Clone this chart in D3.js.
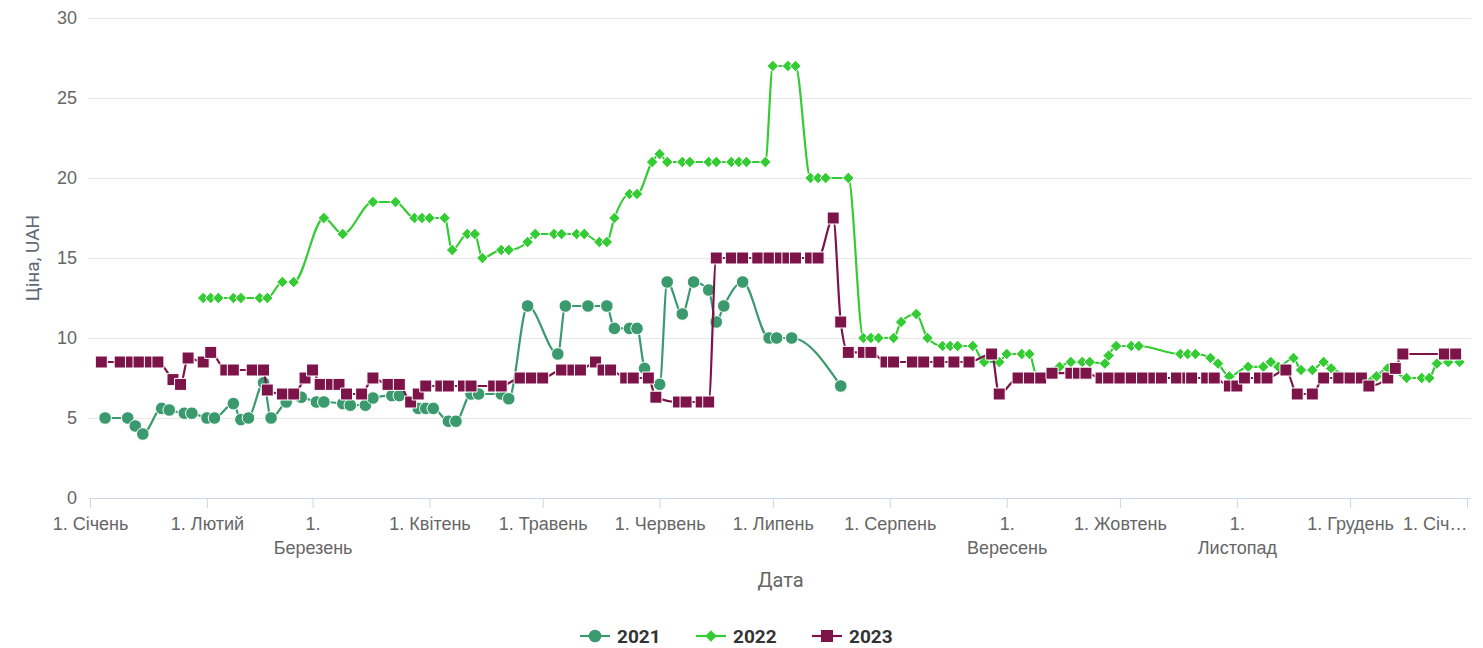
<!DOCTYPE html>
<html>
<head>
<meta charset="utf-8">
<script src="https://cdn.jsdelivr.net/npm/d3@7"></script>
<style>
  body { margin: 0; background: #fff; font-family: Roboto, "Noto Sans", sans-serif; }
</style>
</head>
<body>
<div id="chart"></div>
<script>
// price chart, three years overlaid on one calendar year

var monthNames = ["Січень", "Лютий", "Березень", "Квітень", "Травень", "Червень",
  "Липень", "Серпень", "Вересень", "Жовтень", "Листопад", "Грудень"];
var yTicks = [0, 5, 10, 15, 20, 25, 30];
var seriesNames = ["2021", "2022", "2023"];

var dates2021 = ["01-05","01-11","01-13","01-15","01-20","01-22","01-26","01-28","02-01","02-03",
  "02-08","02-10","02-12","02-16","02-18","02-22","02-26","03-02","03-04","03-09",
  "03-11","03-15","03-17","03-22","03-24","03-29","03-31","04-02","04-06","04-08",
  "04-12","04-14","04-20","04-22","04-27","05-05","05-07","05-13","05-18","05-20",
  "05-24","05-26","05-28","06-01","06-03","06-07","06-10","06-14","06-16","06-18",
  "06-23","06-30","07-02","07-06","07-19"];
var values2021 = [5.0,5.0,4.5,4.0,5.6,5.5,5.3,5.3,5.0,5.0,
  5.9,4.9,5.0,7.2,5.0,6.0,6.3,6.0,6.0,5.9,
  5.8,5.8,6.25,6.4,6.4,5.6,5.6,5.6,4.8,4.8,
  6.5,6.5,6.5,6.2,12.0,9.0,12.0,12.0,12.0,10.6,
  10.6,10.6,8.1,7.1,13.5,11.5,13.5,13.0,11.0,12.0,
  13.5,10.0,10.0,10.0,7.0];

var dates2022 = ["01-31","02-02","02-04","02-08","02-10","02-15","02-17","02-21","02-24","03-04",
  "03-09","03-17","03-23","03-28","03-30","04-01","04-05","04-07","04-11","04-13",
  "04-15","04-20","04-22","04-27","04-29","05-04","05-06","05-10","05-12","05-16",
  "05-18","05-20","05-24","05-26","05-30","06-01","06-03","06-07","06-09","06-14",
  "06-16","06-20","06-22","06-24","06-29","07-01","07-05","07-07","07-11","07-13",
  "07-15","07-21","07-25","07-27","07-29","08-02","08-04","08-08","08-11","08-15",
  "08-17","08-19","08-23","08-26","08-30","09-01","09-05","09-07","09-09","09-15",
  "09-18","09-21","09-23","09-27","09-28","09-30","10-04","10-06","10-17","10-19",
  "10-21","10-25","10-27","10-30","11-04","11-08","11-10","11-12","11-16","11-18",
  "11-21","11-24","11-26","12-07","12-08","12-11","12-16","12-20","12-22","12-24",
  "12-27","12-30"];
var values2022 = [12.5,12.5,12.5,12.5,12.5,12.5,12.5,13.5,13.5,17.5,
  16.5,18.5,18.5,17.5,17.5,17.5,17.5,15.5,16.5,16.5,
  15.0,15.5,15.5,16.0,16.5,16.5,16.5,16.5,16.5,16.0,
  16.0,17.5,19.0,19.0,21.0,21.5,21.0,21.0,21.0,21.0,
  21.0,21.0,21.0,21.0,21.0,27.0,27.0,27.0,20.0,20.0,
  20.0,20.0,10.0,10.0,10.0,10.0,11.0,11.5,10.0,9.5,
  9.5,9.5,9.5,8.5,8.5,9.0,9.0,9.0,7.6,8.2,
  8.5,8.5,8.5,8.4,8.9,9.5,9.5,9.5,9.0,9.0,
  9.0,8.75,8.4,7.6,8.2,8.2,8.5,8.2,8.75,8.0,
  8.0,8.5,8.1,7.4,7.6,8.1,7.5,7.5,7.5,8.4,
  8.5,8.5];

var dates2023 = ["01-04","01-09","01-12","01-14","01-17","01-19","01-23","01-25","01-27","01-31",
  "02-02","02-06","02-08","02-13","02-16","02-17","02-21","02-24","02-27","03-01",
  "03-03","03-06","03-08","03-10","03-14","03-17","03-21","03-24","03-27","03-29",
  "03-31","04-04","04-06","04-10","04-12","04-18","04-20","04-25","04-28","05-01",
  "05-06","05-09","05-11","05-15","05-17","05-19","05-23","05-25","05-29","05-31",
  "06-06","06-08","06-12","06-14","06-16","06-20","06-23","06-27","06-30","07-03",
  "07-05","07-07","07-11","07-13","07-17","07-19","07-21","07-25","07-27","07-31",
  "08-02","08-07","08-10","08-14","08-18","08-22","08-28","08-30","09-04","09-07",
  "09-10","09-13","09-18","09-20","09-22","09-26","09-28","10-01","10-04","10-07",
  "10-10","10-12","10-16","10-19","10-20","10-24","10-26","10-30","11-01","11-03",
  "11-07","11-09","11-14","11-17","11-21","11-24","11-28","12-01","12-04","12-06",
  "12-11","12-13","12-15","12-26","12-29"];
var values2023 = [8.5,8.5,8.5,8.5,8.5,8.5,7.4,7.1,8.75,8.5,
  9.1,8.0,8.0,8.0,8.0,6.75,6.5,6.5,7.5,8.0,
  7.1,7.1,7.1,6.5,6.5,7.5,7.1,7.1,6.0,6.5,
  7.0,7.0,7.0,7.0,7.0,7.0,7.0,7.5,7.5,7.5,
  8.0,8.0,8.0,8.5,8.0,8.0,7.5,7.5,7.5,6.3,
  6.0,6.0,6.0,6.0,15.0,15.0,15.0,15.0,15.0,15.0,
  15.0,15.0,15.0,15.0,17.5,11.0,9.1,9.1,9.1,8.5,
  8.5,8.5,8.5,8.5,8.5,8.5,9.0,6.5,7.5,7.5,
  7.5,7.8,7.8,7.8,7.8,7.5,7.5,7.5,7.5,7.5,
  7.5,7.5,7.5,7.5,7.5,7.5,7.5,7.0,7.0,7.5,
  7.5,7.5,8.0,6.5,6.5,7.5,7.5,7.5,7.5,7.0,
  7.5,8.1,9.0,9.0,9.0];

var colors = ["#3a9a6e", "#33cc33", "#7d1449"];

// square diamond like the highcharts marker (d3's own diamond is too tall)
var squareDiamond = {
  draw: function(ctx, size) {
    var r = Math.sqrt(size / 2);
    ctx.moveTo(0, -r);
    ctx.lineTo(r, 0);
    ctx.lineTo(0, r);
    ctx.lineTo(-r, 0);
    ctx.closePath();
  }
};
var symbols = [d3.symbolCircle, squareDiamond, d3.symbolSquare];
var symbolSizes = [125, 66, 144];

var width = 1483, height = 648;
var plotLeft = 90, plotRight = 1467, plotTop = 18, plotBottom = 498;

var parse = d3.timeParse("%Y-%m-%d");
function pairs(dates, values) {
  return dates.map(function(d, i) { return { date: parse("2021-" + d), value: values[i] }; });
}
var series = [pairs(dates2021, values2021), pairs(dates2022, values2022), pairs(dates2023, values2023)];

var svg = d3.select("#chart").append("svg")
  .attr("width", width)
  .attr("height", height)
  .style("font-family", "Roboto, 'Noto Sans', sans-serif");

var x = d3.scaleTime()
  .domain([new Date(2021, 0, 1), new Date(2022, 0, 1)])
  .range([plotLeft, plotRight]);

var y = d3.scaleLinear().domain([0, 30]).range([plotBottom, plotTop]);

// grid + y labels
var yAxis = svg.append("g")
  .attr("transform", "translate(" + plotLeft + ",0)")
  .call(d3.axisLeft(y).tickValues(yTicks).tickSize(-(plotRight - plotLeft) - 4).tickPadding(13));
yAxis.select(".domain").remove();
yAxis.selectAll(".tick line").attr("stroke", "#e6e6e6").attr("x1", -2);
yAxis.selectAll(".tick text").attr("fill", "#666").style("font-size", "18px");

svg.append("text")
  .attr("transform", "translate(32," + y(15) + ")rotate(-90)")
  .attr("text-anchor", "middle")
  .attr("dy", "0.35em")
  .attr("fill", "#5e6a75")
  .style("font-size", "19px")
  .text("Ціна, UAH");

// x axis
var xAxis = svg.append("g")
  .attr("transform", "translate(0," + plotBottom + ")")
  .call(d3.axisBottom(x)
    .ticks(d3.timeMonth.every(1))
    .tickSize(10)
    .tickPadding(9)
    .tickFormat(function(d) { return "1. " + monthNames[d.getMonth()]; }));
xAxis.select(".domain").attr("stroke", "#ccd6eb").attr("d", "M" + plotLeft + ",0.5H" + (plotRight + 3));
xAxis.selectAll(".tick line").attr("stroke", "#ccd6eb");
xAxis.selectAll(".tick text")
  .attr("fill", "#666")
  .style("font-size", "18px")
  .each(function(d, i, nodes) {
    var t = d3.select(this);
    var m = d.getMonth();
    if (i === nodes.length - 1) {
      t.text("1. Січ…").attr("text-anchor", "end").attr("x", 0);
    } else if (m === 2 || m === 8 || m === 10) {
      var name = monthNames[m];
      t.text(null);
      t.append("tspan").attr("x", 0).text("1.");
      t.append("tspan").attr("x", 0).attr("dy", "24").text(name);
    }
  });

svg.append("text")
  .attr("x", (plotLeft + plotRight) / 2 + 2)
  .attr("y", 587)
  .attr("text-anchor", "middle")
  .attr("fill", "#666")
  .style("font-size", "20px")
  .text("Дата");

// series
var line = d3.line()
  .x(function(d) { return x(d.date); })
  .y(function(d) { return y(d.value); })
  .curve(d3.curveMonotoneX);

series.forEach(function(data, i) {
  var g = svg.append("g");
  g.append("path")
    .datum(data)
    .attr("fill", "none")
    .attr("stroke", colors[i])
    .attr("stroke-width", 2.2)
    .attr("d", line);
  g.selectAll("path.pt")
    .data(data)
    .join("path")
    .attr("class", "pt")
    .attr("transform", function(d) { return "translate(" + x(d.date) + "," + y(d.value) + ")"; })
    .attr("d", d3.symbol().type(symbols[i]).size(symbolSizes[i]))
    .attr("fill", colors[i])
    .attr("stroke", "#fff")
    .attr("stroke-width", 1);
});

// legend
var legendX = [580, 696, 812];
var legend = svg.append("g");
seriesNames.forEach(function(name, i) {
  var lg = legend.append("g").attr("transform", "translate(" + legendX[i] + ",636)");
  lg.append("line").attr("x1", 0).attr("x2", 30).attr("stroke", colors[i]).attr("stroke-width", 2.2);
  lg.append("path")
    .attr("transform", "translate(15,0)")
    .attr("d", d3.symbol().type(symbols[i]).size(symbolSizes[i]))
    .attr("fill", colors[i]);
  lg.append("text")
    .attr("x", 37)
    .attr("dy", "0.36em")
    .attr("fill", "#333")
    .style("font-size", "19px")
    .style("font-weight", "bold")
    .text(name);
});
</script>
</body>
</html>
